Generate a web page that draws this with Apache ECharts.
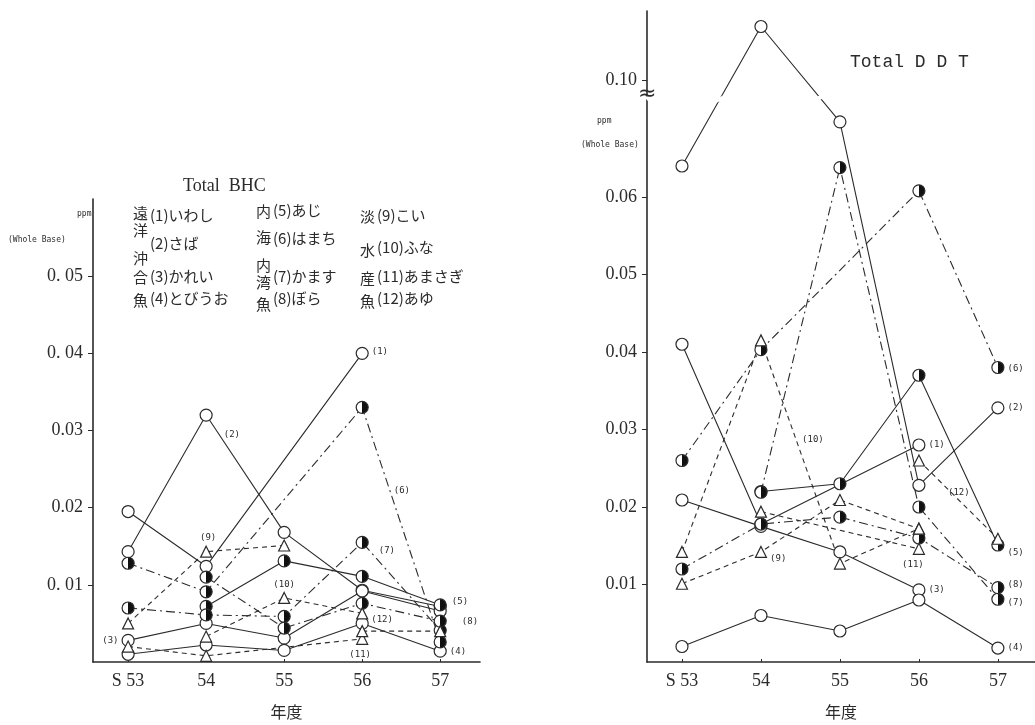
<!DOCTYPE html>
<html><head><meta charset="utf-8">
<script src="https://cdn.jsdelivr.net/npm/echarts@6/dist/echarts.min.js"></script>
<style>html,body{margin:0;padding:0;background:#fff}#c{width:1035px;height:725px}</style>
</head><body><div id="c"></div>
<script>
// ---- data ----
const years = ['S 53', '54', '55', '56', '57'];
const fishNames = ['いわし','さば','かれい','とびうお','あじ','はまち','かます','ぼら','こい','ふな','あまさぎ','あゆ'];
const groupNames = ['遠洋沖合魚', '内海内湾魚', '淡水産魚'];
const bhcTicks = [0.01, 0.02, 0.03, 0.04, 0.05];
const bhcTickLabels = ['0. 01', '0.02', '0.03', '0. 04', '0. 05'];
const ddtTicks = [0.01, 0.02, 0.03, 0.04, 0.05, 0.06, 0.10];
const ddtTickLabels = ['0.01', '0.02', '0.03', '0.04', '0.05', '0.06', '0.10'];

// Total BHC (ppm, whole base)
const bhc1 = [0.0195, 0.0124, null, 0.040, null];
const bhc2 = [0.0143, 0.032, 0.0168, 0.0093, 0.0072];
const bhc3 = [0.0028, 0.0050, 0.0031, 0.0092, 0.0066];
const bhc4 = [0.0010, 0.0022, 0.0015, 0.0050, 0.0014];
const bhc5 = [null, 0.0072, 0.0131, 0.0111, 0.0074];
const bhc6 = [0.0128, 0.0091, null, 0.033, 0.0026];
const bhc7 = [0.0070, 0.0061, 0.0059, 0.0155, 0.0041];
const bhc8 = [null, 0.0110, 0.0044, 0.0076, 0.0053];
const bhc9 = [0.0050, 0.0143, 0.0151, null, null];
const bhc10 = [null, 0.0033, 0.0083, 0.0063, null];
const bhc11 = [0.0020, 0.0008, null, 0.0030, null];
const bhc12 = [null, null, null, 0.0040, 0.0040];

// Total DDT (ppm, whole base)
const ddt1 = [0.041, 0.0178, null, 0.028, null];
const ddt2 = [0.064, 0.107, 0.0697, 0.0228, 0.0328];
const ddt3 = [0.0209, 0.0175, 0.0142, 0.0093, null];
const ddt4 = [0.0020, 0.0060, 0.0040, 0.0080, 0.0018];
const ddt5 = [null, 0.0220, 0.0230, 0.0370, 0.0151];
const ddt6 = [0.0260, 0.0403, null, 0.0608, 0.0380];
const ddt7 = [null, 0.0219, 0.0638, 0.0200, 0.0081];
const ddt8 = [0.0120, 0.0178, 0.0187, 0.0160, 0.0096];
const ddt9 = [0.0101, 0.0142, 0.0209, 0.0172, null];
const ddt10 = [0.0142, 0.0415, 0.0127, 0.0172, null];
const ddt11 = [null, 0.0194, null, 0.0146, null];
const ddt12 = [null, null, null, 0.0260, 0.0159];

const bhcAll = [bhc1,bhc2,bhc3,bhc4,bhc5,bhc6,bhc7,bhc8,bhc9,bhc10,bhc11,bhc12];
const ddtAll = [ddt1,ddt2,ddt3,ddt4,ddt5,ddt6,ddt7,ddt8,ddt9,ddt10,ddt11,ddt12];

// ---- styling ----
const INK = '#2b2b2b';
const halfFill = {type:'linear', x:0, y:0, x2:1, y2:0, colorStops:[
  {offset:0, color:'#fff'}, {offset:0.5, color:'#fff'}, {offset:0.5, color:'#111'}, {offset:1, color:'#111'}]};
function markerFor(i){
  if (i < 4) return {symbol:'circle', size:12, color:'#fff'};
  if (i < 8) return {symbol:'circle', size:12, color:halfFill};
  return {symbol:'triangle', size:11, color:'#fff'};
}
function dashFor(i){
  if (i < 5) return 'solid';
  if (i < 8) return [9, 4, 2, 4];
  return [5, 4];
}
// label anchors: [seriesIdx, dataIdx, position, offset]
const bhcLabelSpec = [
  [0,3,'right',[0,-2]], [1,1,'right',[8,20]], [2,0,'left',[0,0]], [3,4,'right',[0,0]],
  [4,4,'right',[2,-3]], [5,3,'right',[22,83]], [6,3,'right',[7,8]], [7,4,'right',[12,1]],
  [8,1,'top',[2,0]], [9,2,'top',[0,0]], [10,3,'bottom',[-2,2]], [11,3,'right',[0,-11]]
];
const ddtLabelSpec = [
  [0,3,'right',[0,0]], [1,4,'right',[0,0]], [2,3,'right',[0,0]], [3,4,'right',[0,0]],
  [4,4,'right',[0,8]], [5,4,'right',[0,1]], [6,4,'right',[0,3]], [7,4,'right',[0,-3]],
  [8,1,'right',[0,7]], [9,2,'top',[-27,-110]], [10,3,'bottom',[-6,2]], [11,3,'right',[20,32]]
];
const labelFont = {fontFamily:'DejaVu Sans Mono', fontSize:9, color:INK};

function buildSeries(all, specs, axisIdx){
  return all.map((vals, si) => {
    const m = markerFor(si);
    const data = [];
    vals.forEach((v, xi) => {
      if (v == null) return;
      const item = {value:[xi, v]};
      const sp = specs.find(s => s[0] === si && s[1] === xi);
      if (sp) item.label = Object.assign({show:true, formatter:'(' + (si+1) + ')', position:sp[2], offset:sp[3], distance:3}, labelFont);
      data.push(item);
    });
    return {
      type:'line', name:'(' + (si+1) + ')' + fishNames[si],
      xAxisIndex:axisIdx, yAxisIndex:axisIdx, data,
      symbol:m.symbol, symbolSize:m.size, showAllSymbol:true,
      itemStyle:{color:m.color, borderColor:INK, borderWidth:1.2, opacity:1},
      lineStyle:{color:INK, width:1.1, type:dashFor(si)},
      label:{show:false}, emphasis:{disabled:true}, z:3
    };
  });
}

const serifLbl = {fontFamily:'Liberation Serif', fontSize:18, color:INK};
function xAxisCfg(grid, min, max){
  return {
    gridIndex:grid, type:'value', min, max,
    axisLine:{show:true, onZero:false, lineStyle:{color:INK, width:1.6}},
    splitLine:{show:false},
    axisTick:{show:true, inside:true, length:3, customValues:[0,1,2,3,4], lineStyle:{color:INK}},
    axisLabel:Object.assign({customValues:[0,1,2,3,4], formatter:v => years[Math.round(v)], margin:10}, serifLbl),
    name:'年度', nameLocation:'middle', nameGap:42,
    nameTextStyle:{fontFamily:'Noto Sans CJK JP', fontSize:16, color:INK}
  };
}

const legendGraphics = [];
const colChars = [
  {x:141, ys:[214,231,259,278,301], text:groupNames[0]},
  {x:264, ys:[212,238,266,283,305], text:groupNames[1]},
  {x:368, ys:[217,251,279,302], text:groupNames[2]}
];
colChars.forEach(c => {
  [...c.text].forEach((ch, k) => legendGraphics.push({type:'text', left:c.x - 8, top:c.ys[k] - 8,
    style:{text:ch, font:'15px "Noto Sans CJK JP"', fill:INK}}));
});
const nameRows = [[217,245,278,300],[212,240,278,300],[217,249,278,300]];
const nameX = [150, 273, 377];
fishNames.forEach((n, i) => {
  const col = Math.floor(i / 4), row = i % 4;
  legendGraphics.push({type:'text', left:nameX[col], top:nameRows[col][row] - 9,
    style:{text:'(' + (i+1) + ')' + n, font:'15px "Noto Sans CJK JP"', fill:INK}});
});

const option = {
  animation:false,
  backgroundColor:'#fff',
  grid:[
    {left:93, top:199, width:387, height:465, containLabel:false},
    {left:647, top:11, width:388, height:655, containLabel:false}
  ],
  xAxis:[xAxisCfg(0, -0.45, 4.51), xAxisCfg(1, -0.443, 4.47)],
  yAxis:[
    {gridIndex:0, type:'value', min:0, max:0.06,
     axisLine:{show:true, onZero:false, lineStyle:{color:INK, width:1.6}}, splitLine:{show:false},
     axisTick:{show:true, length:5, customValues:bhcTicks, lineStyle:{color:INK}},
     axisLabel:Object.assign({customValues:bhcTicks, formatter:v => bhcTickLabels[bhcTicks.findIndex(t => Math.abs(t - v) < 1e-9)] || '', margin:10}, serifLbl)},
    {gridIndex:1, type:'value', min:0, max:0.109,
     breaks:[{start:0.0725, end:0.098, gap:0.0005}],
     breakArea:{show:true, expandOnClick:false, zigzagAmplitude:2, zigzagZ:10,
       itemStyle:{color:'#fff', borderColor:'#fff', borderWidth:0, opacity:1}},
     axisLine:{show:true, onZero:false, lineStyle:{color:INK, width:1.6}}, splitLine:{show:false},
     axisTick:{show:true, length:5, customValues:ddtTicks, lineStyle:{color:INK}},
     axisLabel:Object.assign({customValues:ddtTicks, formatter:v => ddtTickLabels[ddtTicks.findIndex(t => Math.abs(t - v) < 1e-9)] || '', margin:10}, serifLbl)}
  ],
  graphic:[
    {type:'text', left:183, top:177, style:{text:'Total  BHC', font:'18px "Liberation Serif"', fill:INK}},
    {type:'text', left:850, top:53, style:{text:'Total D D T', font:'18px "Liberation Mono"', fill:INK}},
    {type:'text', left:77, top:210, style:{text:'ppm', font:'8px "DejaVu Sans Mono"', fill:INK}},
    {type:'text', left:8, top:236, style:{text:'(Whole Base)', font:'8px "DejaVu Sans Mono"', fill:INK}},
    {type:'text', left:597, top:117, style:{text:'ppm', font:'8px "DejaVu Sans Mono"', fill:INK}},
    {type:'text', left:581, top:141, style:{text:'(Whole Base)', font:'8px "DejaVu Sans Mono"', fill:INK}},
    {type:'text', left:638, top:83, z:20, style:{text:'≈', font:'22px "DejaVu Sans"', fill:INK}}
  ].concat(legendGraphics),
  series:buildSeries(bhcAll, bhcLabelSpec, 0).concat(buildSeries(ddtAll, ddtLabelSpec, 1))
};
const chart = echarts.init(document.getElementById('c'), null, {renderer:'canvas'});
chart.setOption(option);
</script></body></html>
